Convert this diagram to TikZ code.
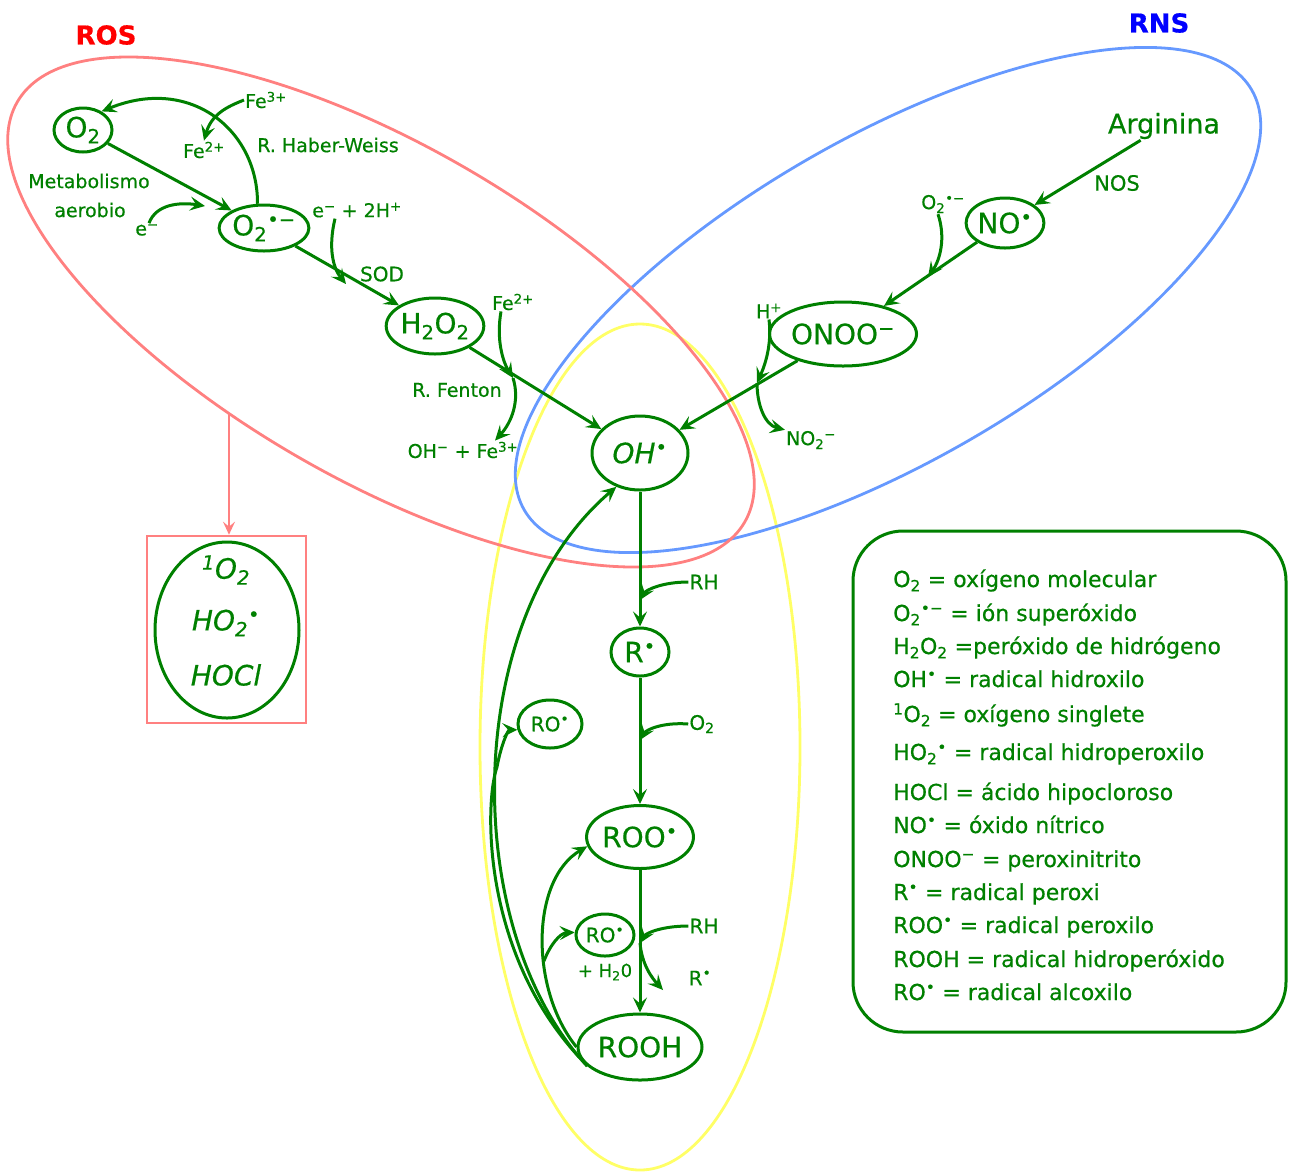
\documentclass[tikz,border=0pt]{standalone}
\usepackage{fontspec}
\setmainfont{DejaVu Sans}[FakeBold=0.5]
\usetikzlibrary{arrows.meta,shapes.geometric}
\definecolor{dg}{RGB}{0,128,0}
\definecolor{rosc}{RGB}{255,128,128}
\definecolor{rnsc}{RGB}{102,153,255}
\definecolor{yelc}{RGB}{255,255,102}
\newcommand{\rd}{\textsuperscript{•}}
\newcommand{\fs}[1]{\fontsize{#1}{#1}\selectfont}
\begin{document}
\begin{tikzpicture}[x=1pt,y=-1pt,
  species/.style={ellipse, draw=dg, line width=3pt, text=dg, inner sep=0pt, font=\fs{28}},
  small/.style={species, font=\fs{20}},
  lbl/.style={text=dg, inner sep=1pt, font=\fs{20}},
  legline/.style={text=dg, inner sep=0pt, anchor=base west, font=\fs{22}},
  flow/.style={draw=dg, line width=3pt, -{Stealth[length=15pt,width=14pt,inset=6pt]}},
  zone/.style={line width=2.8pt},
]
\useasboundingbox (0,0) rectangle (1289,1171);

% reaction zones
\draw[zone, yelc] (640,747) ellipse [x radius=160, y radius=423];
\draw[zone, rnsc, rotate around={30:(888,300)}] (888,300) ellipse [x radius=420, y radius=162];
\draw[zone, rosc, rotate around={-30:(381,312)}] (381,312) ellipse [x radius=420, y radius=167];

\node[text=red, font=\fs{26}\bfseries, inner sep=0pt] (ros) at (106,35) {ROS};
\node[text=blue, font=\fs{26}\bfseries, inner sep=0pt] (rns) at (1159,23) {RNS};

% species
\node[species, minimum width=58pt, minimum height=44pt] (O2) at (83,130) {O\textsubscript{2}};
\node[species, minimum width=74pt, minimum height=46pt] (O2s) at (264,228) {O\textsubscript{2}\textsuperscript{•−}};
\node[species, minimum width=96pt, minimum height=56pt] (H2O2) at (435,326) {H\textsubscript{2}O\textsubscript{2}};
\node[species, minimum width=96pt, minimum height=74pt] (OH) at (640,453) {\textit{OH}\rd};
\node[species, minimum width=74pt, minimum height=50pt] (NO) at (1005,223) {NO\rd};
\node[species, minimum width=126pt, minimum height=64pt] (ONOO) at (843,334) {ONOO\textsuperscript{−}};
\node[species, minimum width=58pt, minimum height=48pt] (R) at (640,652) {R\rd};
\node[small, minimum width=64pt, minimum height=48pt] (RO1) at (550,724) {RO\rd};
\node[species, minimum width=96pt, minimum height=63pt] (ROO) at (640,837) {ROO\rd};
\node[small, minimum width=58pt, minimum height=42pt] (RO2) at (605,935) {RO\rd};
\node[species, minimum width=124pt, minimum height=66pt] (ROOH) at (640,1047) {ROOH};

% other ROS box
\node[draw=rosc, line width=2.6pt, minimum width=159pt, minimum height=187pt] (box) at (226.5,629.5) {};
\node[species, minimum width=144pt, minimum height=176pt] (boxell) at (227,630) {};
\node[lbl, font=\fs{28}\itshape] (sO2) at (226,570) {\textsuperscript{1}O\textsubscript{2}};
\node[lbl, font=\fs{28}\itshape] (HO2) at (226,623) {HO\textsubscript{2}\rd};
\node[lbl, font=\fs{28}\itshape] (HOCl) at (226,675) {HOCl};
\coordinate (rosB) at (229,413);
\draw[rosc, line width=2.6pt, -{Stealth[length=13pt,width=12pt,inset=5pt]}] (rosB) -- (rosB |- box.north);

% labels
\node[lbl, font=\fs{27}] (Arg) at (1164,126) {Arginina};
\node[lbl, font=\fs{21}] (NOS) at (1117,183) {NOS};
\node[lbl, font=\fs{19}] (O2n) at (943,204) {O\textsubscript{2}\textsuperscript{•−}};
\node[lbl, font=\fs{19}] (Hp) at (769,311) {H\textsuperscript{+}};
\node[lbl, font=\fs{19}] (NO2) at (811,440) {NO\textsubscript{2}\textsuperscript{−}};
\node[lbl, font=\fs{19}] (Fe3) at (266,100) {Fe\textsuperscript{3+}};
\node[lbl, font=\fs{19}] (Fe2) at (204,150) {Fe\textsuperscript{2+}};
\node[lbl, font=\fs{19}] (HW) at (328,145) {R. Haber-Weiss};
\node[lbl, font=\fs{19}] (Met) at (89,181) {Metabolismo};
\node[lbl, font=\fs{19}] (aer) at (90,210) {aerobio};
\node[lbl, font=\fs{19}] (em) at (147,230) {e\textsuperscript{−}};
\node[lbl, font=\fs{19}] (eH) at (357,210) {e\textsuperscript{−} + 2H\textsuperscript{+}};
\node[lbl, font=\fs{20}] (SOD) at (382,274) {SOD};
\node[lbl, font=\fs{19}] (Fe2b) at (513,302) {Fe\textsuperscript{2+}};
\node[lbl, font=\fs{19}] (Fen) at (457,390) {R. Fenton};
\node[lbl, font=\fs{19}] (OHFe) at (463,450) {OH\textsuperscript{−} + Fe\textsuperscript{3+}};
\node[lbl] (RH1) at (704,582) {RH};
\node[lbl] (O2l) at (702,724) {O\textsubscript{2}};
\node[lbl] (RH2) at (704,926) {RH};
\node[lbl] (Rl) at (700,978) {R\rd};
\node[lbl, font=\fs{18}] (H2O) at (605,972) {+ H\textsubscript{2}0};

% ROS pathway
\draw[flow] (O2) -- (O2s);
\draw[flow] (O2s.105) .. controls (258,130) and (190,75) .. (O2.45);
\draw[flow] (Fe3.west) .. controls (232,105) and (212,112) .. (Fe2.north);
\coordinate (eA) at (205,206);
\draw[flow] ([xshift=2pt]em.north) .. controls (156,204) and (180,202) .. (eA);
\draw[flow] (O2s) -- (H2O2);
\coordinate (sA) at (346,284);
\draw[flow] ([xshift=-22pt]eH.south) .. controls (328,248) and (333,268) .. (sA);
\draw[flow] (H2O2) -- (OH);
\coordinate (fA) at (513,378);
\draw[flow] ([xshift=-12pt]Fe2b.south) .. controls (496,340) and (503,362) .. (fA);
\draw[flow] (fA) .. controls (520,400) and (512,422) .. ([xshift=32pt]OHFe.north);

% RNS pathway
\draw[flow] (Arg) -- (NO);
\draw[flow] (NO) -- (ONOO);
\coordinate (nA) at (928,277);
\draw[flow] ([xshift=-5pt]O2n.south) .. controls (946,238) and (940,260) .. (nA);
\draw[flow] (ONOO) -- (OH);
\coordinate (hA) at (757,383);
\draw[flow] (Hp.south) .. controls (772,345) and (765,365) .. (hA);
\draw[flow] (hA) .. controls (757,405) and (765,425) .. (NO2.north west);

% lipid peroxidation chain
\draw[flow] (OH) -- (R);
\coordinate (rA) at (640,600);
\draw[flow] (RH1.west) .. controls (662,582) and (646,590) .. (rA);
\draw[flow] (R) -- (ROO);
\coordinate (rB) at (640,740);
\draw[flow] (O2l.west) .. controls (662,722) and (646,730) .. (rB);
\draw[flow] (ROO) -- (ROOH);
\coordinate (rC) at (640,943);
\coordinate (rD) at (663,990);
\draw[flow] (RH2.west) .. controls (662,926) and (646,933) .. (rC);
\draw[flow] (rC) .. controls (642,965) and (652,978) .. (rD);

\draw[flow] (ROOH.200) .. controls (460,930) and (460,620) .. (OH.235);
\coordinate (bend) at (497,767);
\draw[flow] (ROOH.190) .. controls (480,950) and (485,800) .. (bend) .. controls (501,745) and (508,730) .. (RO1.190);
\draw[flow] (ROOH.180) .. controls (530,990) and (530,880) .. (ROO.190);
\coordinate (dA) at (544,961);
\draw[flow] (dA) .. controls (550,945) and (560,933) .. (RO2.175);

% legend
\node[draw=dg, line width=3pt, rounded corners=50pt, minimum width=433pt, minimum height=501pt] (legend) at (1069.5,781.5) {};
\node[legline] (l1) at (893,587) {O\textsubscript{2} = oxígeno molecular};
\node[legline] (l2) at (893,621) {O\textsubscript{2}\textsuperscript{•−} = ión superóxido};
\node[legline] (l3) at (893,654) {H\textsubscript{2}O\textsubscript{2} =peróxido de hidrógeno};
\node[legline] (l4) at (893,687) {OH\rd{} = radical hidroxilo};
\node[legline] (l5) at (893,722) {\textsuperscript{1}O\textsubscript{2} = oxígeno singlete};
\node[legline] (l6) at (893,760) {HO\textsubscript{2}\rd{} = radical hidroperoxilo};
\node[legline] (l7) at (893,800) {HOCl = ácido hipocloroso};
\node[legline] (l8) at (893,833) {NO\rd{} = óxido nítrico};
\node[legline] (l9) at (893,867) {ONOO\textsuperscript{−} = peroxinitrito};
\node[legline] (l10) at (893,900) {R\rd{} = radical peroxi};
\node[legline] (l11) at (893,933) {ROO\rd{} = radical peroxilo};
\node[legline] (l12) at (893,967) {ROOH = radical hidroperóxido};
\node[legline] (l13) at (893,1000) {RO\rd{} = radical alcoxilo};
\end{tikzpicture}
\end{document}
